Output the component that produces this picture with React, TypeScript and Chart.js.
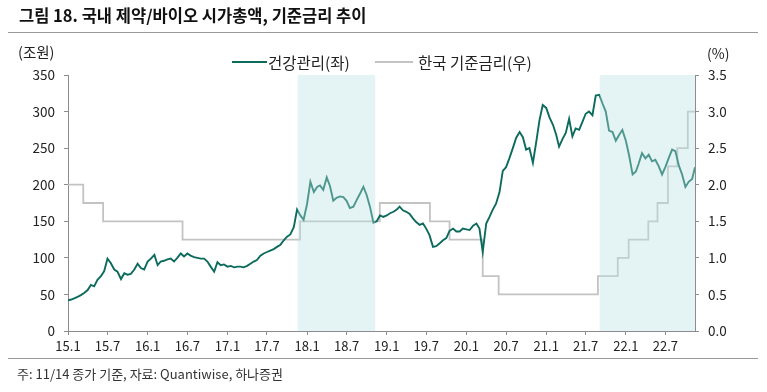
import React, { useEffect, useRef } from "react";
import { Chart, registerables } from "chart.js";

Chart.register(...registerables);

// ---------- data ----------
// semi-monthly observation dates (1st and 16th), last observation 2022-11-14
const seriesDates: string[] = (() => {
  const out: string[] = [];
  for (let y = 2015; y <= 2022; y++) {
    for (let m = 1; m <= 12; m++) {
      for (const d of [1, 16]) {
        const s = `${y}-${String(m).padStart(2, "0")}-${String(d).padStart(2, "0")}`;
        if (s <= "2022-11-01") out.push(s);
      }
    }
  }
  out.push("2022-11-14");
  return out;
})();

// 건강관리 시가총액 (조원)
const healthcareValues: number[] = [
  // 2015
  42, 43, 45, 47, 49, 52, 56, 63, 61, 70, 75, 82, 99, 93, 84, 81, 71, 79, 77, 78, 84, 92, 86, 84,
  // 2016
  95, 99, 104, 90, 95, 96, 98, 99, 95, 100, 106, 102, 106, 103, 101, 100, 99, 99, 95, 88, 81, 94, 90, 91,
  // 2017
  88, 89, 87, 88, 88, 87, 89, 92, 95, 97, 103, 106, 108, 110, 112, 115, 118, 124, 129, 132, 142, 166, 158, 152,
  // 2018
  174, 204, 190, 197, 199, 193, 210, 198, 178, 182, 184, 183, 178, 168, 170, 179, 188, 197, 186, 170, 148, 150, 158, 156,
  // 2019
  158, 161, 163, 166, 170, 165, 163, 160, 154, 149, 145, 147, 140, 131, 115, 116, 120, 124, 127, 137, 140, 136, 136, 140,
  // 2020
  139, 138, 144, 147, 140, 108, 147, 156, 166, 174, 190, 219, 224, 236, 250, 264, 272, 265, 248, 250, 230, 258, 288, 309,
  // 2021
  305, 292, 282, 268, 252, 262, 271, 290, 266, 277, 275, 286, 297, 300, 295, 322, 323, 311, 300, 274, 272, 260, 268, 275,
  // 2022
  260, 240, 214, 218, 229, 243, 236, 241, 232, 234, 225, 214, 224, 236, 248, 246, 226, 214, 197, 204, 208, 224,
];

// 한국 기준금리 (%) – date of change and new level
const rateDates: string[] = [
  "2015-01-01", "2015-03-12", "2015-06-11", "2016-06-09", "2017-11-30", "2018-11-30",
  "2019-07-18", "2019-10-16", "2020-03-16", "2020-05-28", "2021-08-26", "2021-11-25",
  "2022-01-14", "2022-04-14", "2022-05-26", "2022-07-13", "2022-08-25", "2022-10-12", "2022-11-14",
];
const rateValues: number[] = [
  2.0, 1.75, 1.5, 1.25, 1.5, 1.75, 1.5, 1.25, 0.75, 0.5, 0.75, 1.0, 1.25, 1.5, 1.75, 2.25, 2.5, 3.0, 3.0,
];

// shaded periods (rate hiking cycles)
const shadeStarts: string[] = ["2017-11-19", "2021-09-03"];
const shadeEnds: string[] = ["2018-11-09", "2022-11-14"];

const xTickDates: string[] = [
  "2015-01-01", "2015-07-01", "2016-01-01", "2016-07-01", "2017-01-01", "2017-07-01",
  "2018-01-01", "2018-07-01", "2019-01-01", "2019-07-01", "2020-01-01", "2020-07-01",
  "2021-01-01", "2021-07-01", "2022-01-01", "2022-07-01",
];
const xTickLabels: string[] = [
  "15.1", "15.7", "16.1", "16.7", "17.1", "17.7", "18.1", "18.7",
  "19.1", "19.7", "20.1", "20.7", "21.1", "21.7", "22.1", "22.7",
];

const seriesNames = ["건강관리(좌)", "한국 기준금리(우)"];

// ---------- helpers ----------
const ORIGIN = Date.UTC(2015, 0, 1);
const day = (s: string) => {
  const [y, m, d] = s.split("-").map(Number);
  return (Date.UTC(y, m - 1, d) - ORIGIN) / 86400000;
};

const GREEN = "#0d6b5d";
const GRAY = "#c3c3c3";
const AXIS = "#8c8c8c";
const FONT = "'Noto Sans CJK KR', 'Noto Sans', sans-serif";

const shadePlugin = {
  id: "shade",
  afterDatasetsDraw(chart: any) {
    const { ctx, chartArea, scales } = chart;
    ctx.save();
    ctx.fillStyle = "rgba(184,224,224,0.38)";
    shadeStarts.forEach((s, i) => {
      const x0 = scales.x.getPixelForValue(day(s));
      const x1 = scales.x.getPixelForValue(day(shadeEnds[i]));
      ctx.fillRect(x0, chartArea.top, x1 - x0, chartArea.bottom - chartArea.top);
    });
    ctx.restore();
  },
};

function ChartCanvas() {
  const ref = useRef<HTMLCanvasElement | null>(null);
  useEffect(() => {
    if (!ref.current) return;
    const tickFont = { family: FONT, size: 13.5 };
    const chart = new Chart(ref.current, {
      type: "line",
      data: {
        datasets: [
          {
            label: seriesNames[0],
            data: seriesDates.map((d, i) => ({ x: day(d), y: healthcareValues[i] })),
            borderColor: GREEN,
            backgroundColor: GREEN,
            borderWidth: 1.9,
            pointRadius: 0,
            tension: 0,
            yAxisID: "y",
          },
          {
            label: seriesNames[1],
            data: rateDates.map((d, i) => ({ x: day(d), y: rateValues[i] })),
            borderColor: GRAY,
            backgroundColor: GRAY,
            borderWidth: 1.8,
            pointRadius: 0,
            stepped: true,
            yAxisID: "y1",
          },
        ],
      },
      options: {
        responsive: false,
        animation: false,
        devicePixelRatio: 1,
        layout: { padding: { top: 75, left: 0, right: 0, bottom: 0 } },
        plugins: { legend: { display: false }, tooltip: { enabled: false } },
        scales: {
          x: {
            type: "linear",
            min: 0,
            max: day("2022-11-14"),
            afterBuildTicks: (scale: any) => {
              scale.ticks = xTickDates.map((d) => ({ value: day(d) }));
            },
            afterFit: (scale: any) => {
              scale.height = 61;
            },
            ticks: {
              autoSkip: false,
              maxRotation: 0,
              padding: 3,
              color: "#222",
              font: { family: FONT, size: 13 },
              callback: (_v: any, i: number) => xTickLabels[i],
            },
            grid: { drawOnChartArea: false, drawTicks: true, tickLength: 4, color: AXIS },
            border: { color: AXIS },
          },
          y: {
            position: "left",
            min: 0,
            max: 350,
            afterFit: (scale: any) => {
              scale.width = 68;
            },
            ticks: { stepSize: 50, padding: 9, color: "#222", font: tickFont },
            grid: { drawOnChartArea: false, drawTicks: true, tickLength: 4, color: AXIS },
            border: { color: AXIS },
          },
          y1: {
            position: "right",
            min: 0,
            max: 3.5,
            afterFit: (scale: any) => {
              scale.width = 72;
            },
            ticks: {
              stepSize: 0.5,
              padding: 9,
              color: "#222",
              font: tickFont,
              callback: (v: any) => Number(v).toFixed(1),
            },
            grid: { drawOnChartArea: false, drawTicks: true, tickLength: 4, color: AXIS },
            border: { color: AXIS },
          },
        },
      } as any,
      plugins: [shadePlugin],
    });
    return () => chart.destroy();
  }, []);
  return (
    <canvas
      ref={ref}
      width={767}
      height={392}
      style={{ position: "absolute", left: 0, top: 0, width: 767, height: 392 }}
    />
  );
}

export default function App() {
  const txt: React.CSSProperties = {
    position: "absolute",
    fontFamily: FONT,
    color: "#222",
    whiteSpace: "nowrap",
  };
  return (
    <div style={{ position: "absolute", left: 0, top: 0, width: 767, height: 392, background: "#fff", overflow: "hidden" }}>
      <ChartCanvas />
      <div style={{ ...txt, left: 19, top: 4, fontSize: 16.5, lineHeight: "22px", fontWeight: 700, color: "#111" }}>
        그림 18. 국내 제약/바이오 시가총액, 기준금리 추이
      </div>
      <div style={{ position: "absolute", left: 8, top: 32, width: 750, height: 1, background: "#9a9a9a" }} />
      <div style={{ ...txt, left: 18, top: 43, fontSize: 14.5, lineHeight: "18px" }}>(조원)</div>
      <div style={{ ...txt, left: 707, top: 44, fontSize: 14, lineHeight: "18px" }}>(%)</div>
      {/* legend */}
      <div style={{ position: "absolute", left: 232, top: 61, width: 35, height: 2, background: GREEN }} />
      <div style={{ ...txt, left: 268, top: 52, fontSize: 15.5, lineHeight: "20px" }}>{seriesNames[0]}</div>
      <div style={{ position: "absolute", left: 375, top: 61, width: 38, height: 2, background: GRAY }} />
      <div style={{ ...txt, left: 418, top: 52, fontSize: 15.5, lineHeight: "20px" }}>{seriesNames[1]}</div>
      <div style={{ position: "absolute", left: 8, top: 358, width: 750, height: 1, background: "#9a9a9a" }} />
      <div style={{ ...txt, left: 17, top: 365, fontSize: 13, lineHeight: "17px", color: "#333" }}>
        주: 11/14 종가 기준, 자료: Quantiwise, 하나증권
      </div>
    </div>
  );
}
